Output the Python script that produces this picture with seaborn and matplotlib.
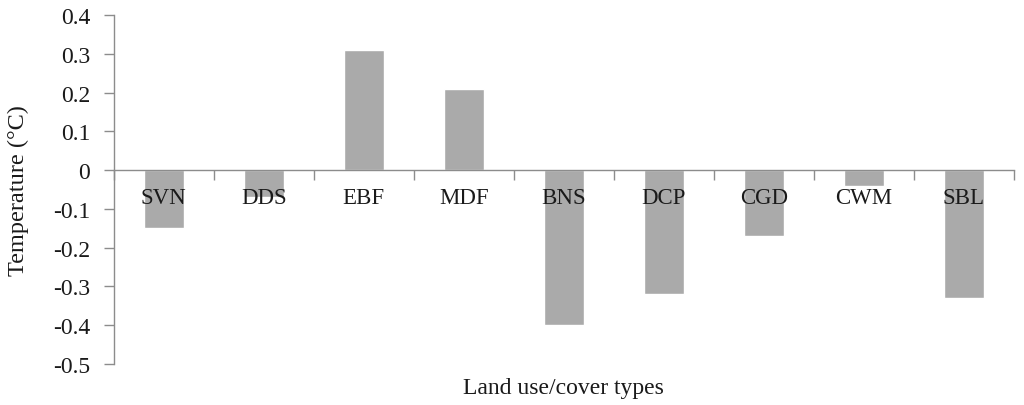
import numpy as np
import pandas as pd
import matplotlib
matplotlib.use("Agg")
import matplotlib.pyplot as plt
import seaborn as sns

categories = ["SVN", "DDS", "EBF", "MDF", "BNS", "DCP", "CGD", "CWM", "SBL"]
values = [-0.15, -0.07, 0.31, 0.21, -0.40, -0.32, -0.17, -0.04, -0.33]
yticks = [0.4, 0.3, 0.2, 0.1, 0, -0.1, -0.2, -0.3, -0.4, -0.5]
ytick_labels = ["0.4", "0.3", "0.2", "0.1", "0", "-0.1", "-0.2", "-0.3", "-0.4", "-0.5"]

sns.set_style("white")
plt.rcParams['font.family'] = ['Liberation Serif', 'DejaVu Serif']

df = pd.DataFrame({"cat": categories, "val": values})

fig = plt.figure(figsize=(10.24, 4.06), dpi=100)
ax = fig.add_axes([0.111, 0.101, 0.879, 0.8594])

sns.barplot(data=df, x="cat", y="val", color="#aaaaaa", width=0.4,
            saturation=1, ax=ax, order=categories)

ax.set_xlim(-0.5, len(categories) - 0.5)
ax.set_ylim(-0.5, 0.4)
ax.set_yticks(yticks)
ax.set_yticklabels(ytick_labels, fontsize=17)

ax.spines['top'].set_visible(False)
ax.spines['right'].set_visible(False)
ax.spines['bottom'].set_position(('data', 0))
for s in ['left', 'bottom']:
    ax.spines[s].set_color('#8c8c8c')
    ax.spines[s].set_linewidth(1.0)

ax.set_xticks(np.arange(-0.5, len(categories), 1.0))
ax.set_xticklabels([])
ax.tick_params(axis='x', bottom=True, direction='out', length=7, color='#8c8c8c', width=1.0)
ax.tick_params(axis='y', left=True, direction='out', length=7, color='#8c8c8c', width=1.0,
               pad=10, labelcolor='#1a1a1a')

for i, c in enumerate(categories):
    ax.text(i, -0.07, c, ha='center', va='center', fontsize=16.5, color='#1a1a1a')

ax.set_xlabel("Land use/cover types", fontsize=17, color='#1a1a1a')
ax.xaxis.label.set_va('center')
ax.xaxis.set_label_coords(0.5, -0.066)
ax.set_ylabel("Temperature (°C)", fontsize=17.5, color='#1a1a1a')
ax.yaxis.label.set_va('center')
ax.yaxis.set_label_coords(-0.106, 0.5)

fig.savefig("out.png", dpi=100)
